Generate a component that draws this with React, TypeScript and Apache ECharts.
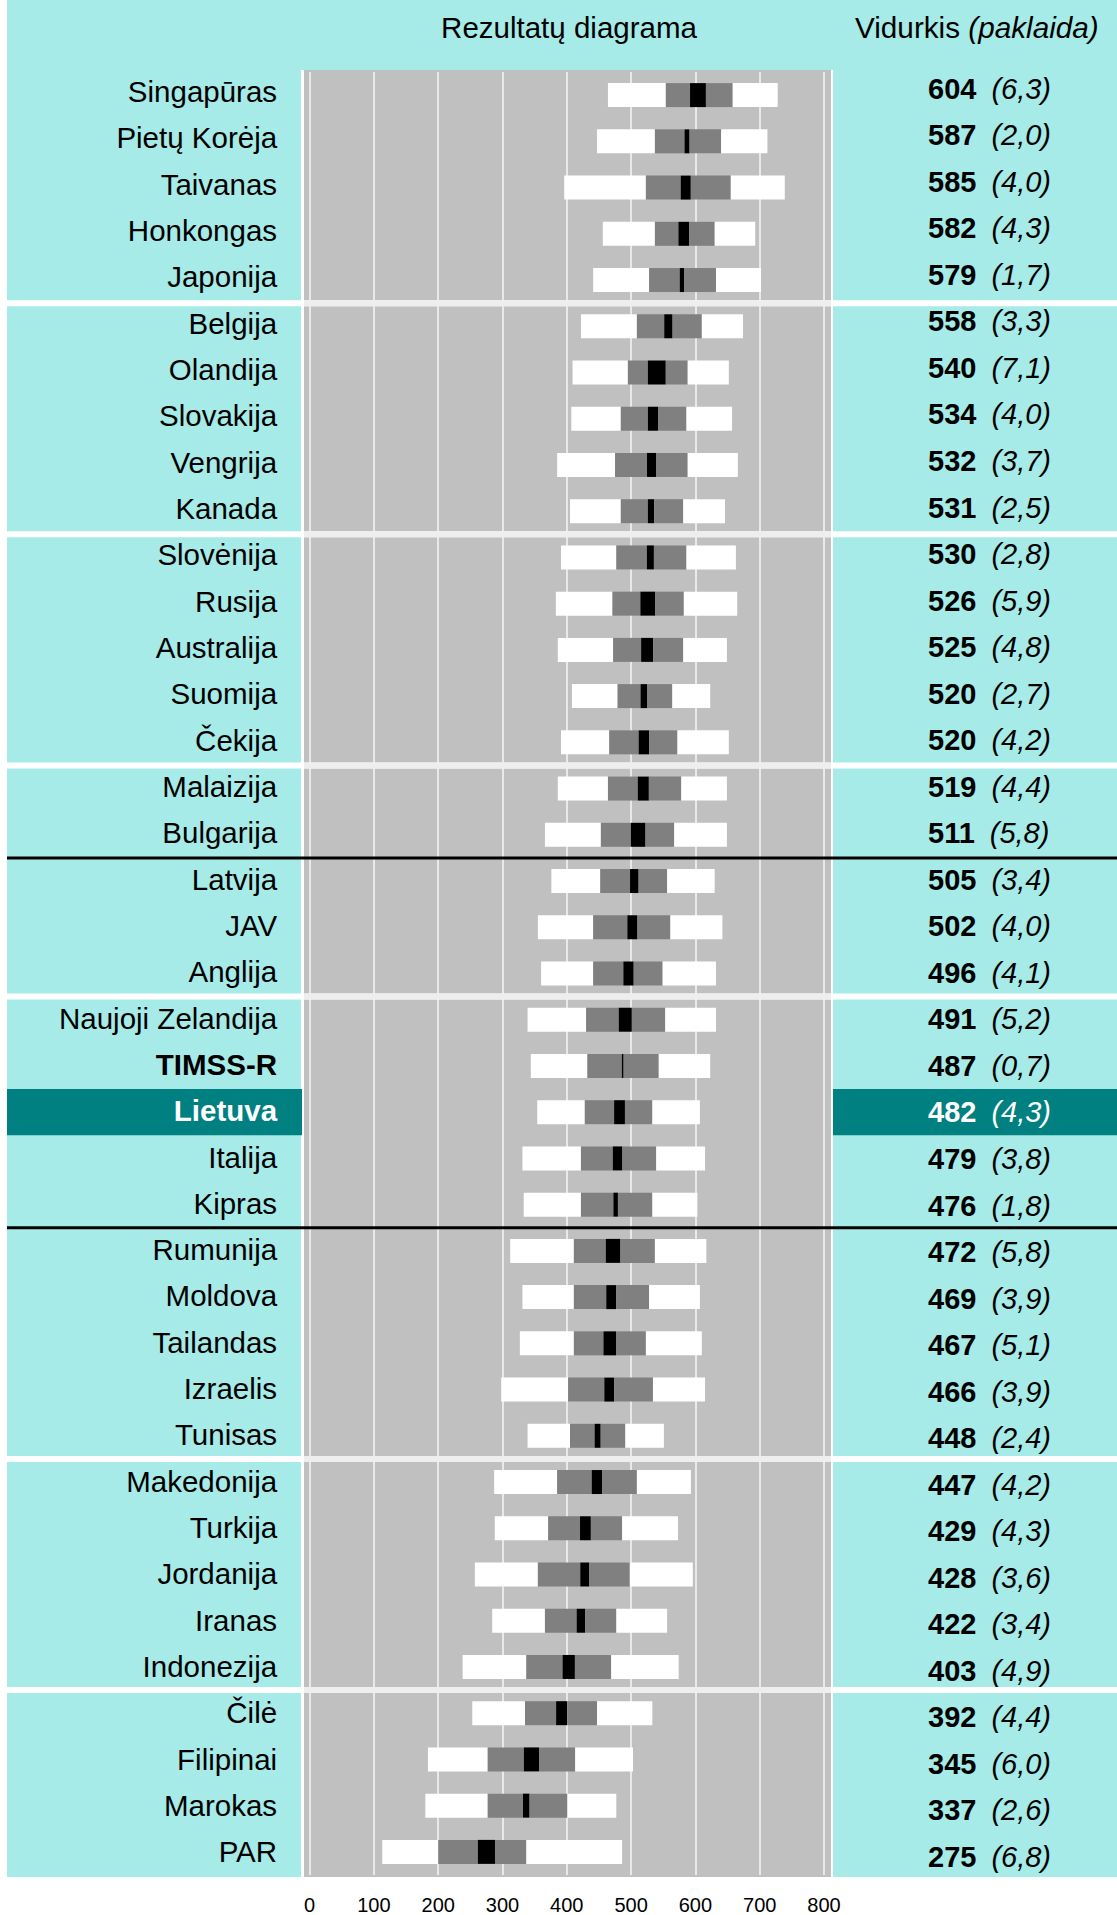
import React, { useEffect, useRef } from "react";
import * as echarts from "echarts";

// ---------------- data ----------------
const countries = [
  "Singapūras", "Pietų Korėja", "Taivanas", "Honkongas", "Japonija",
  "Belgija", "Olandija", "Slovakija", "Vengrija", "Kanada",
  "Slovėnija", "Rusija", "Australija", "Suomija", "Čekija",
  "Malaizija", "Bulgarija",
  "Latvija", "JAV", "Anglija",
  "Naujoji Zelandija", "TIMSS-R", "Lietuva", "Italija", "Kipras",
  "Rumunija", "Moldova", "Tailandas", "Izraelis", "Tunisas",
  "Makedonija", "Turkija", "Jordanija", "Iranas", "Indonezija",
  "Čilė", "Filipinai", "Marokas", "PAR",
];
const means = [
  604, 587, 585, 582, 579, 558, 540, 534, 532, 531, 530, 526, 525, 520, 520,
  519, 511, 505, 502, 496, 491, 487, 482, 479, 476, 472, 469, 467, 466, 448,
  447, 429, 428, 422, 403, 392, 345, 337, 275,
];
const errors = [
  6.3, 2.0, 4.0, 4.3, 1.7, 3.3, 7.1, 4.0, 3.7, 2.5, 2.8, 5.9, 4.8, 2.7, 4.2,
  4.4, 5.8, 3.4, 4.0, 4.1, 5.2, 0.7, 4.3, 3.8, 1.8, 5.8, 3.9, 5.1, 3.9, 2.4,
  4.2, 4.3, 3.6, 3.4, 4.9, 4.4, 6.0, 2.6, 6.8,
];
const p5 = [
  464, 447, 396, 456, 441, 422, 409, 407, 385, 405, 391, 383, 386, 408, 391,
  386, 366, 376, 355, 360, 339, 344, 354, 331, 333, 312, 331, 327, 298, 339,
  287, 288, 257, 284, 238, 253, 184, 180, 113,
];
const p25 = [
  554, 537, 523, 537, 528, 509, 495, 484, 475, 484, 477, 471, 472, 479, 466,
  464, 453, 452, 441, 441, 430, 432, 428, 422, 422, 411, 411, 411, 402, 405,
  385, 371, 355, 366, 337, 335, 277, 277, 200,
];
const p75 = [
  658, 640, 655, 630, 632, 610, 588, 586, 588, 581, 586, 582, 581, 564, 572,
  578, 567, 556, 561, 549, 553, 543, 533, 539, 533, 537, 528, 523, 534, 491,
  509, 486, 498, 477, 469, 447, 413, 401, 337,
];
const p95 = [
  728, 712, 739, 693, 702, 674, 652, 657, 666, 646, 663, 665, 649, 623, 652,
  649, 649, 630, 642, 632, 632, 623, 607, 615, 603, 617, 607, 610, 615, 551,
  593, 573, 596, 556, 574, 533, 503, 477, 486,
];
const axisMin = 0;
const axisMax = 800;
const axisStep = 100;
const groupBreaks = [5, 10, 15, 20, 30, 35];
const lineBreaks = [17, 25];
const highlighted = "Lietuva";
const boldLabels = ["TIMSS-R", "Lietuva"];
const titleLeft = "Rezultatų diagrama";
const titleRight = "Vidurkis";
const titleRightItalic = "(paklaida)";

// ---------------- style / layout ----------------
const FONT = "'Liberation Sans', Arial, Helvetica, sans-serif";
const FS = 29.5;
const CYAN = "#A6EBE8";
const TEAL = "#008080";
const PLOT_BG = "#C0C0C0";
const GRID_LEFT = 309.6;
const GRID_WIDTH = 514.4;
const GRID_TOP = 72;
const GRID_HEIGHT = 1803;
const ROW_H = GRID_HEIGHT / countries.length;
const rowTop = (k: number) => GRID_TOP + k * ROW_H;
const fmtErr = (v: number) => v.toFixed(1).replace(".", ",");

function buildOption() {
  const lo = means.map((m, i) => m - 1.96 * errors[i]);
  const hi = means.map((m, i) => m + 1.96 * errors[i]);
  const segments = [
    { name: "base", data: p5, color: "rgba(0,0,0,0)" },
    { name: "p5-p25", data: p25.map((v, i) => v - p5[i]), color: "#FFFFFF" },
    { name: "p25-ci", data: lo.map((v, i) => v - p25[i]), color: "#808080" },
    { name: "ci", data: hi.map((v, i) => v - lo[i]), color: "#000000" },
    { name: "ci-p75", data: p75.map((v, i) => v - hi[i]), color: "#808080" },
    { name: "p75-p95", data: p95.map((v, i) => v - p75[i]), color: "#FFFFFF" },
  ];

  const series = segments.map((s) => ({
    type: "bar",
    name: s.name,
    stack: "box",
    xAxisIndex: 0,
    yAxisIndex: 0,
    barWidth: 24,
    silent: true,
    itemStyle: { color: s.color, borderWidth: 0 },
    data: s.data,
  }));

  const hiIdx = countries.indexOf(highlighted);
  const graphics: any[] = [];
  // backgrounds
  graphics.push({ type: "rect", z: -10, shape: { x: 7, y: 0, width: 1110, height: 70 }, style: { fill: CYAN } });
  graphics.push({ type: "rect", z: -10, shape: { x: 7, y: 0, width: 294, height: 1877 }, style: { fill: CYAN } });
  graphics.push({ type: "rect", z: -10, shape: { x: 833, y: 0, width: 284, height: 1877 }, style: { fill: CYAN } });
  graphics.push({ type: "rect", z: -10, shape: { x: 304, y: 70, width: 527, height: 1807 }, style: { fill: PLOT_BG } });
  // highlight
  graphics.push({ type: "rect", z: -9, shape: { x: 7, y: rowTop(hiIdx), width: 295, height: ROW_H }, style: { fill: TEAL } });
  graphics.push({ type: "rect", z: -9, shape: { x: 833, y: rowTop(hiIdx), width: 284, height: ROW_H }, style: { fill: TEAL } });
  // group separators
  groupBreaks.forEach((k) => {
    const y = rowTop(k) - 3;
    graphics.push({ type: "rect", z: 10, shape: { x: 7, y, width: 1110, height: 6 }, style: { fill: "#FFFFFF" } });
    graphics.push({ type: "rect", z: 11, shape: { x: 304, y, width: 527, height: 6 }, style: { fill: "#EEEEEE" } });
  });
  lineBreaks.forEach((k) => {
    graphics.push({ type: "rect", z: 12, shape: { x: 7, y: rowTop(k) - 1.5, width: 1110, height: 3 }, style: { fill: "#000000" } });
  });
  // header texts
  graphics.push({
    type: "text",
    z: 20,
    style: {
      text: titleLeft,
      x: 569,
      y: 27,
      fill: "#000",
      fontSize: FS,
      fontFamily: FONT,
      align: "center",
      textAlign: "center",
      verticalAlign: "middle",
      textVerticalAlign: "middle",
    },
  });
  graphics.push({
    type: "text",
    z: 20,
    style: {
      text: `{a|${titleRight} }{b|${titleRightItalic}}`,
      x: 855,
      y: 27,
      fill: "#000",
      fontSize: FS,
      fontFamily: FONT,
      align: "left",
      textAlign: "left",
      verticalAlign: "middle",
      textVerticalAlign: "middle",
      rich: {
        a: { fontSize: 29.7, fontFamily: FONT, fill: "#000", color: "#000" },
        b: { fontSize: 29.7, fontFamily: FONT, fontStyle: "italic", fill: "#000", color: "#000" },
      },
    },
  });

  const gridCommon = { left: GRID_LEFT, width: GRID_WIDTH, containLabel: false, outerBoundsMode: "none" };

  return {
    animation: false,
    backgroundColor: "#FFFFFF",
    textStyle: { fontFamily: FONT },
    grid: [
      { ...gridCommon, top: GRID_TOP, height: GRID_HEIGHT },
      { ...gridCommon, top: 68.5, height: 1806.5 },
      { ...gridCommon, top: 65.5, height: 1814.7 },
    ],
    xAxis: [
      {
        gridIndex: 0,
        type: "value",
        min: axisMin,
        max: axisMax,
        interval: axisStep,
        axisLine: { show: false },
        axisTick: { show: false },
        splitLine: { show: true, lineStyle: { color: "#E9E9E9", width: 2 } },
        axisLabel: { fontSize: 20, color: "#000", fontFamily: FONT, margin: 20 },
      },
      { gridIndex: 1, type: "value", show: false, min: axisMin, max: axisMax },
      { gridIndex: 2, type: "value", show: false, min: axisMin, max: axisMax },
    ],
    yAxis: [
      {
        gridIndex: 0,
        type: "category",
        data: countries,
        inverse: true,
        axisLine: { show: false },
        axisTick: { show: false },
        axisLabel: { show: false },
        splitLine: { show: false },
      },
      {
        gridIndex: 1,
        type: "category",
        data: countries,
        inverse: true,
        position: "left",
        axisLine: { show: false },
        axisTick: { show: false },
        splitLine: { show: false },
        axisLabel: {
          margin: 32.5,
          interval: 0,
          formatter: (v: string) => {
            const k = v === highlighted ? "h" : boldLabels.includes(v) ? "b" : "n";
            return `{${k}|${v}}`;
          },
          rich: {
            n: { fontSize: FS, color: "#000", fontFamily: FONT },
            b: { fontSize: FS, color: "#000", fontWeight: "bold", fontFamily: FONT },
            h: { fontSize: FS, color: "#FFFFFF", fontWeight: "bold", fontFamily: FONT },
          },
        },
      },
      {
        gridIndex: 2,
        type: "category",
        data: countries,
        inverse: true,
        position: "right",
        axisLine: { show: false },
        axisTick: { show: false },
        splitLine: { show: false },
        axisLabel: {
          margin: 104,
          interval: 0,
          align: "left",
          formatter: (v: string, idx: number) => {
            const w = v === highlighted ? "w" : "";
            return `{num${w}|${means[idx]}}{err${w}|(${fmtErr(errors[idx])})}`;
          },
          rich: {
            num: { fontSize: 29, color: "#000", fontWeight: "bold", fontFamily: FONT },
            err: { fontSize: 29, color: "#000", fontStyle: "italic", fontFamily: FONT, padding: [0, 0, 0, 15] },
            numw: { fontSize: 29, color: "#FFFFFF", fontWeight: "bold", fontFamily: FONT },
            errw: { fontSize: 29, color: "#FFFFFF", fontStyle: "italic", fontFamily: FONT, padding: [0, 0, 0, 15] },
          },
        },
      },
    ],
    graphic: { elements: graphics },
    series,
  };
}

export default function App() {
  const ref = useRef<HTMLDivElement>(null);
  useEffect(() => {
    if (!ref.current) return;
    const chart = echarts.init(ref.current, undefined, { renderer: "svg" });
    chart.setOption(buildOption() as any);
    return () => {
      chart.dispose();
    };
  }, []);
  return (
    <div
      ref={ref}
      style={{ position: "absolute", left: 0, top: 0, width: 1117, height: 1915, background: "#FFFFFF" }}
    />
  );
}
